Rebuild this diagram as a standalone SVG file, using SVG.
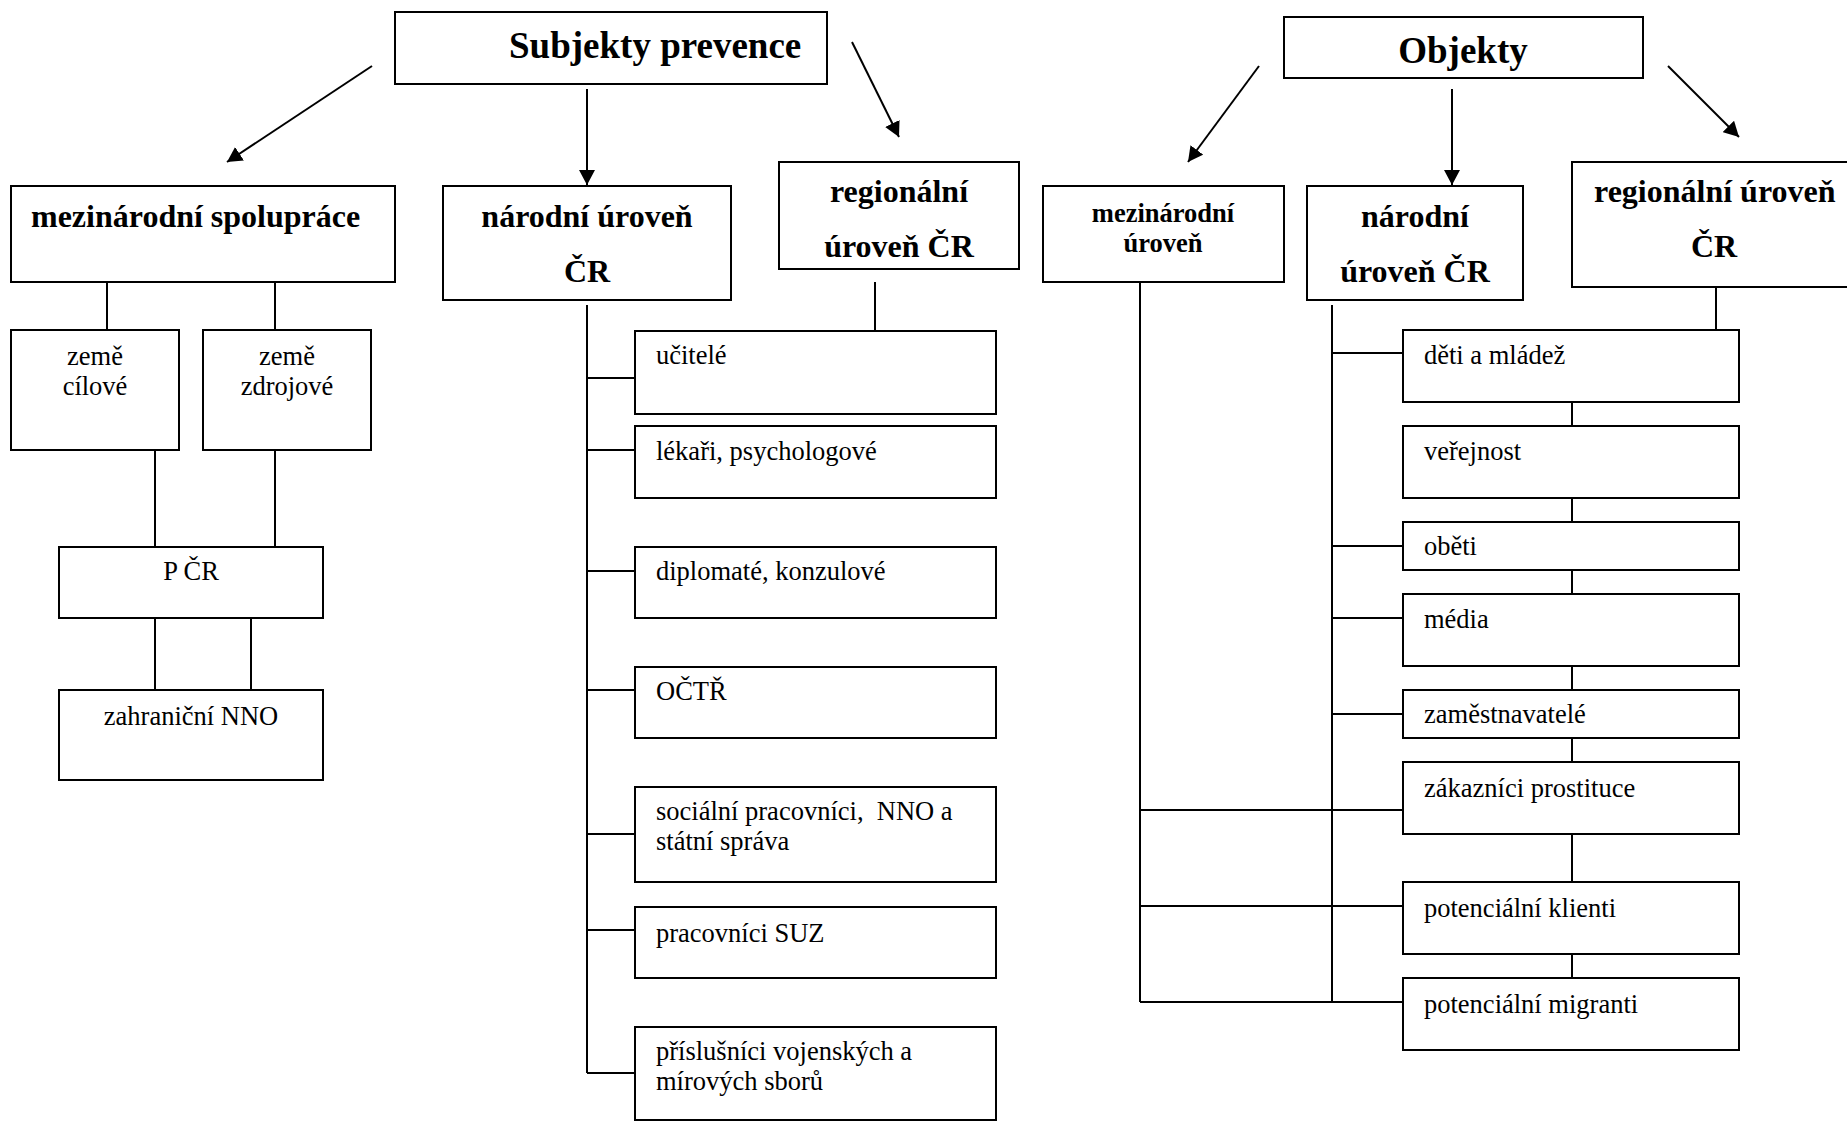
<svg xmlns="http://www.w3.org/2000/svg" width="1847" height="1122" viewBox="0 0 1847 1122">
<style>
.box{fill:#fff;stroke:#000;stroke-width:2}
.ln{stroke:#000;stroke-width:2;fill:none}
.t{font-family:"Liberation Serif","Times New Roman",serif;font-size:26.5px;fill:#000}
.b{font-family:"Liberation Serif","Times New Roman",serif;font-weight:bold;font-size:32px;fill:#000}
.h{font-family:"Liberation Serif","Times New Roman",serif;font-weight:bold;font-size:37px;fill:#000}
.c{text-anchor:middle}
</style>
<defs>
<marker id="ah" markerUnits="userSpaceOnUse" markerWidth="16" markerHeight="16" refX="15" refY="8" orient="auto">
<path d="M0,0 L15,8 L0,16 z" fill="#000"/>
</marker>
</defs>
<rect width="1847" height="1122" fill="#fff"/>
<g id="connectors">
<line class="ln" x1="372" y1="66" x2="227" y2="162" marker-end="url(#ah)"/>
<line class="ln" x1="587" y1="89" x2="587" y2="185" marker-end="url(#ah)"/>
<line class="ln" x1="852" y1="42" x2="899" y2="137" marker-end="url(#ah)"/>
<line class="ln" x1="1259" y1="66" x2="1188" y2="162" marker-end="url(#ah)"/>
<line class="ln" x1="1452" y1="89" x2="1452" y2="185" marker-end="url(#ah)"/>
<line class="ln" x1="1668" y1="66" x2="1739" y2="137" marker-end="url(#ah)"/>
<path class="ln" d="M107,282 V330 M275,282 V330 M155,450 V547 M275,450 V547 M155,618 V690 M251,618 V690"/>
<path class="ln" d="M587,305 V1073 M875,282 V331 M587,378 H635 M587,450 H635 M587,571 H635 M587,690 H635 M587,834 H635 M587,930 H635 M587,1073 H635"/>
<path class="ln" d="M1140,282 V1002 M1332,305 V1002 M1716,287 V330 M1332,353 H1403 M1332,546 H1403 M1332,618 H1403 M1332,714 H1403 M1140,810 H1403 M1140,906 H1403 M1140,1002 H1403"/>
<path class="ln" d="M1572,402 V426 M1572,498 V522 M1572,570 V594 M1572,666 V690 M1572,738 V762 M1572,834 V882 M1572,954 V978"/>
</g>
<g id="subjekty"><rect class="box" x="395" y="12" width="432" height="72"/><text class="h" x="509" y="58">Subjekty prevence</text></g>
<g id="objekty"><rect class="box" x="1284" y="17" width="359" height="61"/><text class="h c" x="1463" y="63">Objekty</text></g>
<g id="mezinarodni-spoluprace"><rect class="box" x="11" y="186" width="384" height="96"/><text class="b" x="31" y="227">mezinárodní spolupráce</text></g>
<g id="narodni-s"><rect class="box" x="443" y="186" width="288" height="114"/><text class="b c" x="587" y="227">národní úroveň</text><text class="b c" x="587" y="282">ČR</text></g>
<g id="regionalni-s"><rect class="box" x="779" y="162" width="240" height="107"/><text class="b c" x="899" y="202">regionální</text><text class="b c" x="899" y="257">úroveň ČR</text></g>
<g id="zeme-cilove"><rect class="box" x="11" y="330" width="168" height="120"/><text class="t c" x="95" y="365">země</text><text class="t c" x="95" y="395">cílové</text></g>
<g id="zeme-zdrojove"><rect class="box" x="203" y="330" width="168" height="120"/><text class="t c" x="287" y="365">země</text><text class="t c" x="287" y="395">zdrojové</text></g>
<g id="pcr"><rect class="box" x="59" y="547" width="264" height="71"/><text class="t c" x="191" y="580">P ČR</text></g>
<g id="zahranicni-nno"><rect class="box" x="59" y="690" width="264" height="90"/><text class="t c" x="191" y="725">zahraniční NNO</text></g>
<g id="ucitele"><rect class="box" x="635" y="331" width="361" height="83"/><text class="t" x="656" y="364">učitelé</text></g>
<g id="lekari"><rect class="box" x="635" y="426" width="361" height="72"/><text class="t" x="656" y="460">lékaři, psychologové</text></g>
<g id="diplomate"><rect class="box" x="635" y="547" width="361" height="71"/><text class="t" x="656" y="580">diplomaté, konzulové</text></g>
<g id="octr"><rect class="box" x="635" y="667" width="361" height="71"/><text class="t" x="656" y="700">OČTŘ</text></g>
<g id="socialni"><rect class="box" x="635" y="787" width="361" height="95"/><text class="t" x="656" y="820" xml:space="preserve">sociální pracovníci,  NNO a</text><text class="t" x="656" y="850">státní správa</text></g>
<g id="suz"><rect class="box" x="635" y="907" width="361" height="71"/><text class="t" x="656" y="942">pracovníci SUZ</text></g>
<g id="prislusnici"><rect class="box" x="635" y="1027" width="361" height="93"/><text class="t" x="656" y="1060">příslušníci vojenských a</text><text class="t" x="656" y="1090">mírových sborů</text></g>
<g id="mezinarodni-o"><rect class="box" x="1043" y="186" width="241" height="96"/><text class="b c" x="1163" y="222" style="font-size:26.5px">mezinárodní</text><text class="b c" x="1163" y="252" style="font-size:26.5px">úroveň</text></g>
<g id="narodni-o"><rect class="box" x="1307" y="186" width="216" height="114"/><text class="b c" x="1415" y="227">národní</text><text class="b c" x="1415" y="282">úroveň ČR</text></g>
<g id="regionalni-o"><rect class="box" x="1572" y="162" width="290" height="125"/><text class="b" x="1594" y="202">regionální úroveň</text><text class="b c" x="1714" y="257">ČR</text></g>
<g id="deti"><rect class="box" x="1403" y="330" width="336" height="72"/><text class="t" x="1424" y="364">děti a mládež</text></g>
<g id="verejnost"><rect class="box" x="1403" y="426" width="336" height="72"/><text class="t" x="1424" y="460">veřejnost</text></g>
<g id="obeti"><rect class="box" x="1403" y="522" width="336" height="48"/><text class="t" x="1424" y="555">oběti</text></g>
<g id="media"><rect class="box" x="1403" y="594" width="336" height="72"/><text class="t" x="1424" y="628">média</text></g>
<g id="zamestnavatele"><rect class="box" x="1403" y="690" width="336" height="48"/><text class="t" x="1424" y="723">zaměstnavatelé</text></g>
<g id="zakaznici"><rect class="box" x="1403" y="762" width="336" height="72"/><text class="t" x="1424" y="797">zákazníci prostituce</text></g>
<g id="klienti"><rect class="box" x="1403" y="882" width="336" height="72"/><text class="t" x="1424" y="917">potenciální klienti</text></g>
<g id="migranti"><rect class="box" x="1403" y="978" width="336" height="72"/><text class="t" x="1424" y="1013">potenciální migranti</text></g>
</svg>
